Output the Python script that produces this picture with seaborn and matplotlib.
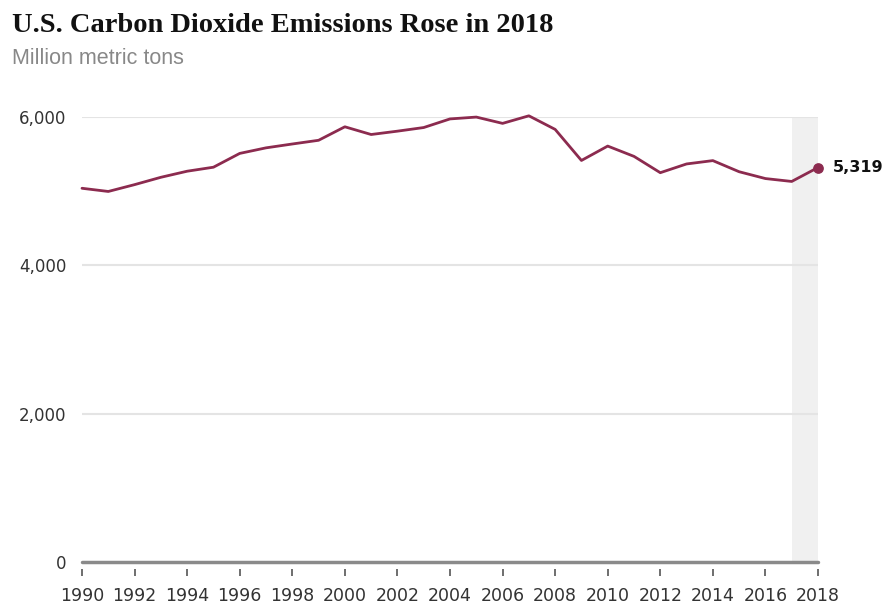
import matplotlib
matplotlib.use("Agg")
import matplotlib.pyplot as plt
import seaborn as sns
import pandas as pd

years = list(range(1990, 2019))
emissions = [5039, 4996, 5088, 5187, 5269, 5323, 5509, 5584, 5636, 5686,
             5868, 5764, 5809, 5858, 5974, 5999, 5914, 6016, 5833, 5414,
             5608, 5469, 5249, 5367, 5412, 5262, 5170, 5131, 5319]
ytick_vals = [0, 2000, 4000, 6000]
ytick_labels = ["0", "2,000", "4,000", "6,000"]
xtick_vals = list(range(1990, 2019, 2))
title = "U.S. Carbon Dioxide Emissions Rose in 2018"
subtitle = "Million metric tons"

df = pd.DataFrame({"year": years, "emissions": emissions})

sns.set_style("white")
plt.rcParams['font.family'] = ['DejaVu Sans']

LINE = "#8c2b4f"

fig = plt.figure(figsize=(8.88, 6.08), dpi=100)
ax = fig.add_axes([82/888, 1-562/608, (818-82)/888, (562-117)/608])

ax.axvspan(2017, 2018, ymin=0, ymax=1, color="#f0f0f0", zorder=0, lw=0)
for v in ytick_vals[1:]:
    ax.axhline(v, color="#e4e4e4", lw=1.5, zorder=1)
ax.axhline(0, color="#8a8a8a", lw=2.5, zorder=3, clip_on=False)

sns.lineplot(data=df, x="year", y="emissions", ax=ax, color=LINE, lw=2,
             zorder=4, clip_on=False)
last = df.iloc[-1]
ax.scatter([last["year"]], [last["emissions"]], s=45, color=LINE, zorder=5, clip_on=False)
ax.annotate(f"{int(last['emissions']):,}", (last["year"], last["emissions"]),
            xytext=(11, 0), textcoords="offset points", va="center", ha="left",
            fontsize=11.5, fontweight="bold", color="#111111")

ax.set_xlim(1990, 2018)
ax.set_ylim(0, 6000)
ax.set_xticks(xtick_vals)
ax.set_xticklabels([str(x) for x in xtick_vals])
ax.set_yticks(ytick_vals)
ax.set_yticklabels(ytick_labels)
for s in ["top", "right", "left"]:
    ax.spines[s].set_visible(False)
ax.spines["bottom"].set_position(("outward", 5))
ax.spines["bottom"].set_visible(False)
ax.tick_params(axis="x", length=5, width=1.2, color="#555555", pad=8, direction="out",
               bottom=True, labelsize=12.5, labelcolor="#333333")
ax.tick_params(axis="y", length=0, pad=11, labelsize=12, labelcolor="#333333")
for lbl in ax.get_yticklabels():
    lbl.set_va("center_baseline")
ax.set_xlabel("")
ax.set_ylabel("")

fig.text(12/888, 1-25/608, title, fontsize=20.5, fontweight="bold",
         family="Liberation Serif", va="center", ha="left", color="#111111")
fig.text(12/888, 1-58/608, subtitle, fontsize=15.5, family="Liberation Sans",
         va="center", ha="left", color="#888888")

fig.savefig("out.png", dpi=100, facecolor="white")
